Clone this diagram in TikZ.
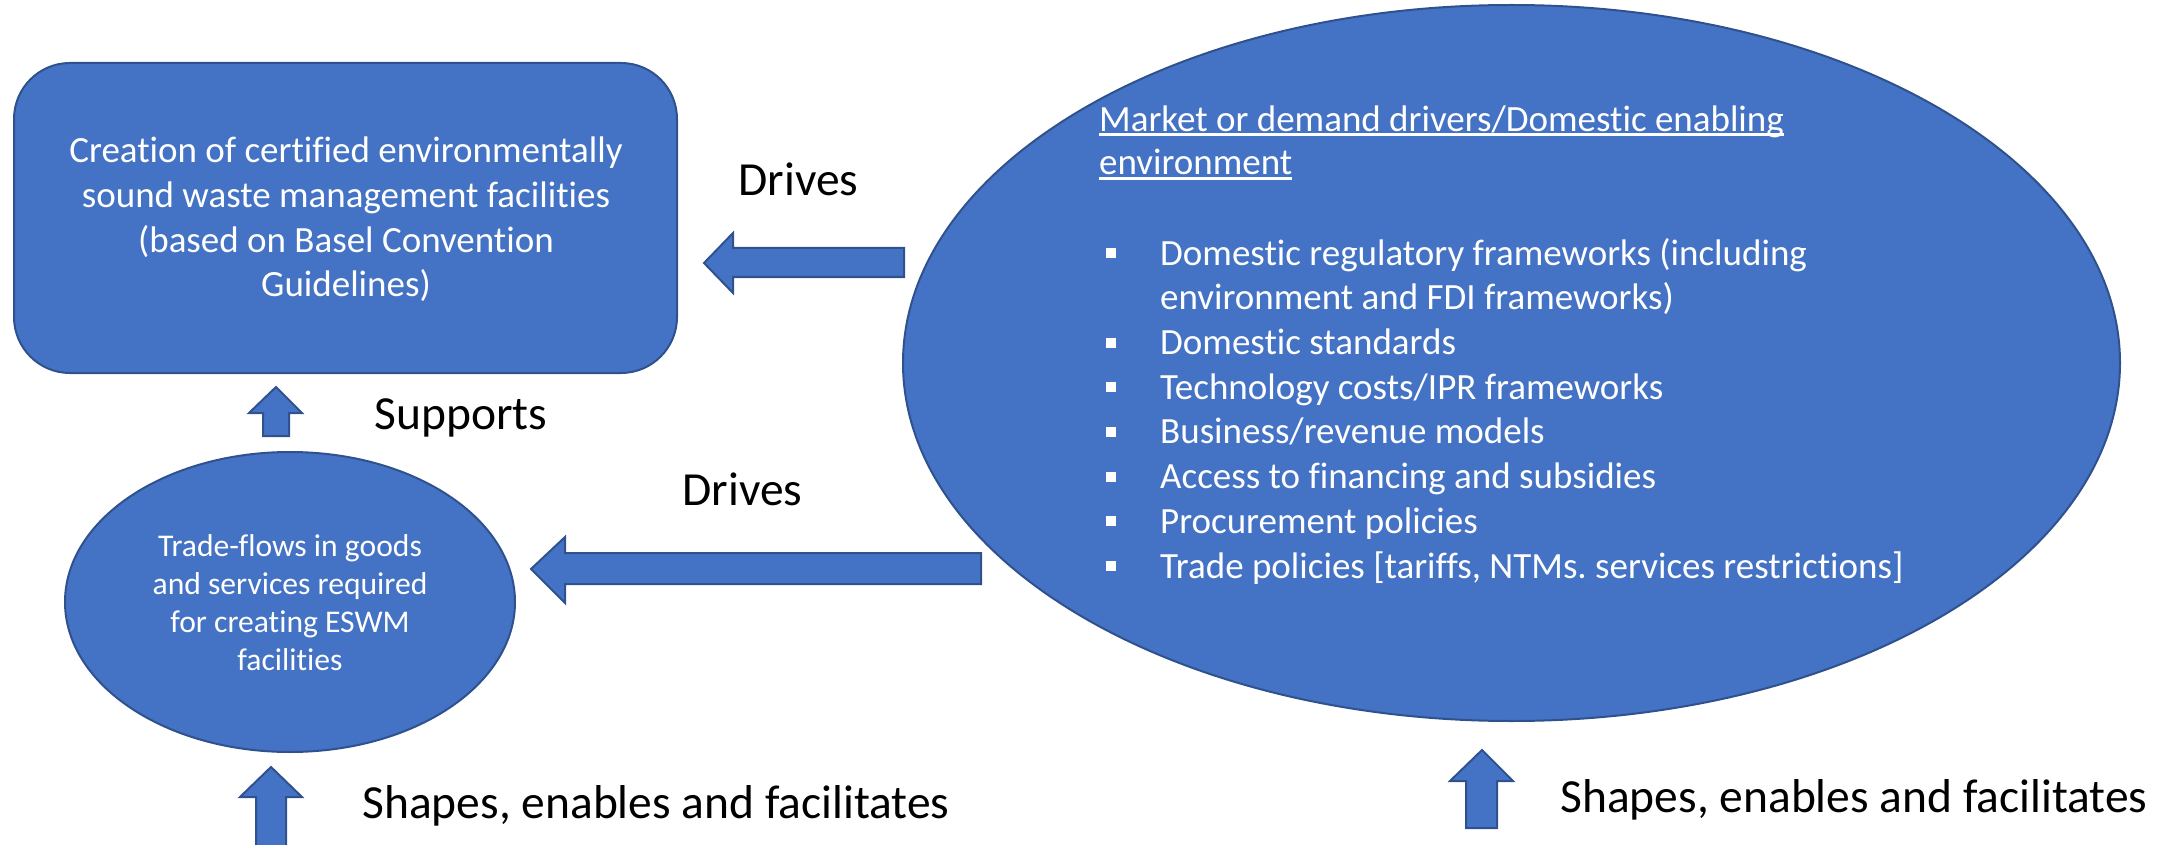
\documentclass[tikz,border=0pt]{standalone}
\usepackage{fontspec}
\setmainfont{Carlito}[Ligatures=NoCommon]
\usetikzlibrary{shapes.geometric}
\definecolor{fillblue}{HTML}{4472C4}
\definecolor{edgeblue}{HTML}{2F528F}
\newcommand\myul[1]{\setbox0\hbox{#1}\rlap{\rule[-5pt]{\wd0}{3pt}}\box0}
\newcommand\blt{\makebox[54pt][l]{\raisebox{7pt}{\rule{10pt}{10pt}}}}
\frenchspacing
\begin{document}
\begin{tikzpicture}[x=1pt,y=-1pt,
  shapefill/.style={fill=fillblue, draw=edgeblue, line width=2pt},
  blockarrow/.style={fill=fillblue, draw=edgeblue, line width=2pt, line join=miter},
  intext/.style={text=white, inner sep=0pt},
  lbl/.style={text=black, inner sep=0pt, font=\fontsize{47.5}{57}\selectfont, anchor=base}]
\useasboundingbox (0,0) rectangle (2180,845);
% shapes
\node[shapefill, rectangle, rounded corners=56pt, minimum width=663pt, minimum height=310pt] (cert) at (345.5,218) {};
\node[shapefill, ellipse, inner sep=0pt, minimum width=450pt, minimum height=300pt] (trade) at (290,602) {};
\node[shapefill, ellipse, inner sep=0pt, minimum width=1217pt, minimum height=716pt] (market) at (1511.5,363) {};
% texts inside shapes (base anchor = baseline of the last line)
\node[intext, anchor=base, align=center, font=\fontsize{37}{44.7}\selectfont] (certtext) at (346,297)
  {Creation of certified environmentally\\sound waste management facilities\\(based on Basel Convention\\Guidelines)};
\node[intext, anchor=base, align=center, font=\fontsize{31.6}{38}\selectfont] (tradetext) at (290,670)
  {Trade-flows in goods\\and services required\\for creating ESWM\\facilities};
\node[intext, anchor=base west, align=left, font=\fontsize{37}{43.5}\selectfont] (title) at (1099,175)
  {\myul{Market or demand drivers/Domestic enabling}\\\myul{environment}};
\node[intext, anchor=base west, align=left, font=\fontsize{37}{44.7}\selectfont] (drivers) at (1106,578)
  {\blt Domestic regulatory frameworks (including\\
   \hspace*{54pt}environment and FDI frameworks)\\
   \blt Domestic standards\\
   \blt Technology costs/IPR frameworks\\
   \blt Business/revenue models\\
   \blt Access to financing and subsidies\\
   \blt Procurement policies\\
   \blt Trade policies [tariffs, NTMs. services restrictions]};
% block arrows
\draw[blockarrow] (704,263) -- (733,233) -- (733,248) -- (904,248) -- (904,277) -- (733,277) -- (733,293) -- cycle;
\draw[blockarrow] (531,569) -- (565,537) -- (565,553) -- (981,553) -- (981,584) -- (565,584) -- (565,603) -- cycle;
\draw[blockarrow] (276,387) -- (302,413) -- (289,413) -- (289,436) -- (263,436) -- (263,413) -- (249,413) -- cycle;
\draw[blockarrow] (271,767) -- (302,797) -- (286,797) -- (286,850) -- (256,850) -- (256,797) -- (240,797) -- cycle;
\draw[blockarrow] (1482,750) -- (1513,781) -- (1497,781) -- (1497,828) -- (1466,828) -- (1466,781) -- (1450,781) -- cycle;
% labels
\node[lbl] (drives1) at (798.5,196) {Drives};
\node[lbl] (drives2) at (742.5,505) {Drives};
\node[lbl] (supports) at (461,429) {Supports};
\node[lbl] (shapes1) at (656,818) {Shapes, enables and facilitates};
\node[lbl] (shapes2) at (1854,812) {Shapes, enables and facilitates};
\end{tikzpicture}
\end{document}
